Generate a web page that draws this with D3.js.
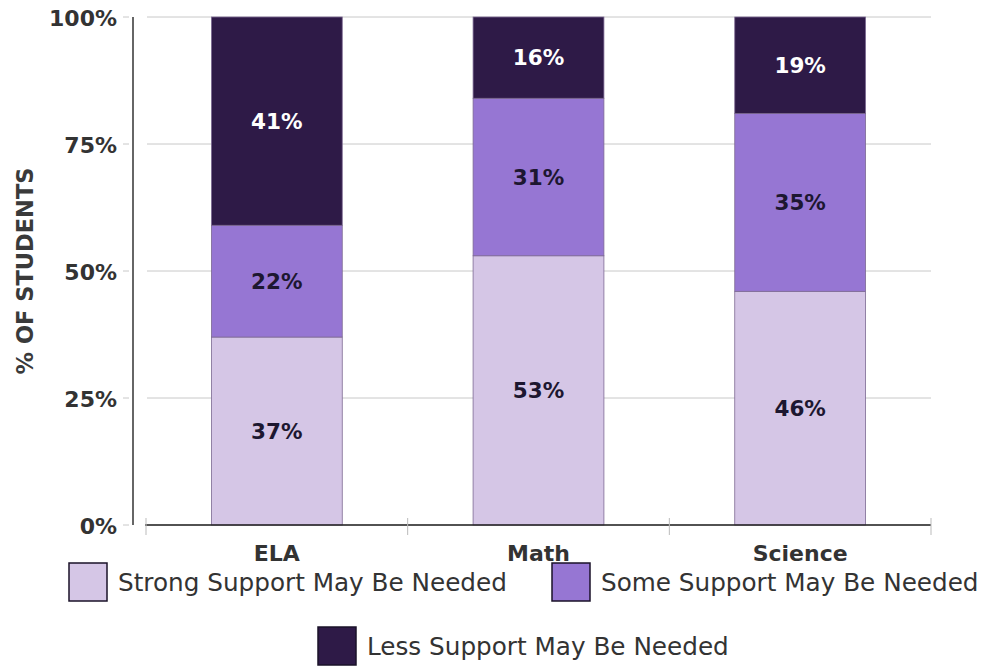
<!DOCTYPE html>
<html><head><meta charset="utf-8">
<script src="https://cdn.jsdelivr.net/npm/d3@7"></script>
<style>body{margin:0;background:#fff}svg{display:block}</style>
</head><body>
<script>
const categories = ["ELA", "Math", "Science"];
const seriesNames = ["Strong Support May Be Needed", "Some Support May Be Needed", "Less Support May Be Needed"];
const strongValues = [37, 53, 46];
const someValues = [22, 31, 35];
const lessValues = [41, 16, 19];
const yTicks = [0, 25, 50, 75, 100];
const colors = ["#d5c6e6", "#9676d3", "#2e1a47"];
const labelColors = ["#1d1730", "#1d1730", "#ffffff"];

const W = 983, H = 666;
const svg = d3.select("body").append("svg").attr("width", W).attr("height", H);
const font = "'DejaVu Sans', sans-serif";

const x = d3.scaleBand().domain(categories).range([146, 931]).paddingInner(0.5).paddingOuter(0.25);
const y = d3.scaleLinear().domain([0, 100]).range([525, 17]);

// gridlines
svg.append("g").selectAll("line").data(yTicks).join("line")
  .attr("x1", 147).attr("x2", 931).attr("y1", d => y(d)).attr("y2", d => y(d))
  .attr("stroke", "#c8c8c8").attr("stroke-width", 1);
svg.append("g").selectAll("line").data(yTicks).join("line")
  .attr("x1", 123).attr("x2", 129).attr("y1", d => y(d)).attr("y2", d => y(d))
  .attr("stroke", "#c8c8c8").attr("stroke-width", 1);

const table = categories.map((c, i) => ({cat: c, s0: strongValues[i], s1: someValues[i], s2: lessValues[i]}));
const stack = d3.stack().keys(["s0", "s1", "s2"])(table);

const g = svg.append("g");
stack.forEach((layer, li) => {
  g.append("g").selectAll("rect").data(layer).join("rect")
    .attr("x", d => x(d.data.cat)).attr("width", x.bandwidth())
    .attr("y", d => y(d[1])).attr("height", d => y(d[0]) - y(d[1]))
    .attr("fill", colors[li]).attr("stroke", "#7d6a93").attr("stroke-width", 0.8);
  g.append("g").selectAll("text").data(layer).join("text")
    .attr("x", d => x(d.data.cat) + x.bandwidth() / 2)
    .attr("y", d => (y(d[0]) + y(d[1])) / 2)
    .attr("dy", "0.35em").attr("text-anchor", "middle")
    .attr("font-family", font).attr("font-weight", "bold").attr("font-size", 21.5)
    .attr("fill", labelColors[li])
    .text(d => Math.round(d[1] - d[0]) + "%");
});

// y axis
svg.append("line").attr("x1", 133).attr("x2", 133).attr("y1", 17).attr("y2", 525)
  .attr("stroke", "#333").attr("stroke-width", 1.5);
svg.append("g").selectAll("text").data(yTicks).join("text")
  .attr("x", 117).attr("y", d => y(d) + 1).attr("dy", "0.35em").attr("text-anchor", "end")
  .attr("font-family", font).attr("font-weight", "bold").attr("font-size", 22).attr("fill", "#333")
  .text(d => d + "%");
svg.append("text").attr("transform", "translate(25,271) rotate(-90)")
  .attr("text-anchor", "middle").attr("dy", "0.35em").attr("font-family", font).attr("font-weight", "bold")
  .attr("font-size", 22.5).attr("fill", "#3a3a3a").text("% OF STUDENTS");

// x axis
svg.append("line").attr("x1", 145).attr("x2", 931).attr("y1", 525).attr("y2", 525)
  .attr("stroke", "#222").attr("stroke-width", 1.5);
const bounds = [146, ...categories.map(c => x(c) + x.bandwidth() + x.step() * 0.25)];
svg.append("g").selectAll("line").data(bounds).join("line")
  .attr("x1", d => d).attr("x2", d => d).attr("y1", 518).attr("y2", 535)
  .attr("stroke", "#bbb").attr("stroke-width", 1);
svg.append("g").selectAll("text").data(categories).join("text")
  .attr("x", d => x(d) + x.bandwidth() / 2).attr("y", 553).attr("dy", "0.35em")
  .attr("text-anchor", "middle").attr("font-family", font).attr("font-weight", "bold")
  .attr("font-size", 22).attr("fill", "#333").text(d => d);

// legend
const legendPos = [[69, 563], [552, 563], [318, 627]];
seriesNames.forEach((name, i) => {
  const [lx, ly] = legendPos[i];
  svg.append("rect").attr("x", lx).attr("y", ly).attr("width", 38).attr("height", 38)
    .attr("fill", colors[i]).attr("stroke", "#1a1228").attr("stroke-width", 1.5);
  svg.append("text").attr("x", lx + 49).attr("y", ly + 19).attr("dy", "0.35em")
    .attr("font-family", font).attr("font-size", 24.7).attr("fill", "#333").text(name);
});
</script>
</body></html>
